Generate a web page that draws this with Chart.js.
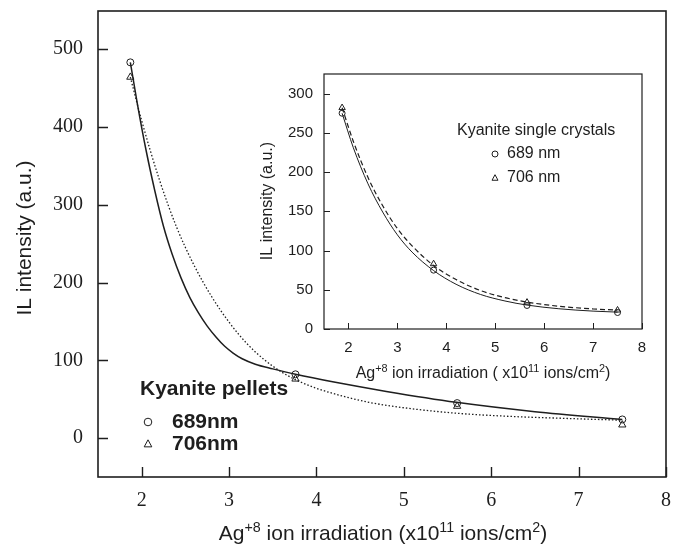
<!DOCTYPE html>
<html>
<head>
<meta charset="utf-8">
<script src="https://cdn.jsdelivr.net/npm/chart.js@4/dist/chart.umd.min.js"></script>
<style>
  body { margin: 0; background: #fff; }
  #wrap { position: relative; width: 680px; height: 545px; }
  #main { position: absolute; left: 0; top: 0; }
  #inset { position: absolute; left: 250px; top: 60px; }
</style>
</head>
<body>
<div id="wrap">
  <canvas id="main" width="680" height="545"></canvas>
  <canvas id="inset" width="400" height="330"></canvas>
</div>
<script>
// ---- main plot: Kyanite pellets ----
const pelletX = [1.87, 3.76, 5.61, 7.50];
const pellet689 = [483, 82, 45, 24];
const pellet706 = [464, 76, 41, 17];

// fitted curves
const pelletFit689X = [1.87, 1.95, 2.05, 2.15, 2.25, 2.35, 2.45, 2.55, 2.65, 2.75, 2.85, 2.95, 3.05, 3.15, 3.3, 3.5, 3.76, 4.2, 4.8, 5.6, 6.5, 7.5];
const pelletFit689Y = [483, 430, 370, 318, 272, 236, 206, 181, 161, 144, 130, 118, 109, 102, 95, 89, 82, 72, 60, 46, 34, 24];
const pelletFit706X = [1.87, 2.0, 2.2, 2.4, 2.6, 2.8, 3.0, 3.2, 3.4, 3.6, 3.8, 4.0, 4.3, 4.6, 5.0, 5.6, 6.2, 6.8, 7.5];
const pelletFit706Y = [464, 408, 333, 271, 222, 182, 149, 122, 101, 85, 73, 64, 54, 46, 39, 32, 28, 25.5, 23];

const mainXTicks = [2, 3, 4, 5, 6, 7, 8];
const mainYTicks = [0, 100, 200, 300, 400, 500];

// ---- inset: Kyanite single crystals ----
const crystalX = [1.87, 3.74, 5.65, 7.50];
const crystal689 = [275, 75, 30, 21];
const crystal706 = [282, 83, 34, 24];

const crystalFit689X = [1.87, 2.1, 2.4, 2.7, 3.0, 3.3, 3.74, 4.2, 4.7, 5.2, 5.65, 6.3, 7.0, 7.5];
const crystalFit689Y = [275, 231, 185, 149, 120, 98, 74.5, 57, 44, 35.7, 30.5, 25.8, 22.8, 21.5];
const crystalFit706X = [1.87, 2.1, 2.4, 2.7, 3.0, 3.3, 3.74, 4.2, 4.7, 5.2, 5.65, 6.3, 7.0, 7.5];
const crystalFit706Y = [282, 239, 193, 157, 128, 106, 81, 63, 49, 40, 34.3, 29, 25.6, 24];

const insetXTicks = [2, 3, 4, 5, 6, 7, 8];
const insetYTicks = [0, 50, 100, 150, 200, 250, 300];

const INK = '#1e1e1e';
const SANS = '"Liberation Sans", Arial, sans-serif';
const SERIF = '"Liberation Serif", "Times New Roman", serif';

function pairs(xs, ys) {
  return xs.map((x, i) => ({ x: x, y: ys[i] }));
}

// text with superscript pieces, centred on x
function drawParts(ctx, parts, x, y, size, family) {
  let total = 0;
  parts.forEach(p => {
    ctx.font = (p[1] ? size * 0.68 : size) + 'px ' + family;
    total += ctx.measureText(p[0]).width;
  });
  let cx = x - total / 2;
  ctx.textAlign = 'left';
  ctx.textBaseline = 'alphabetic';
  parts.forEach(p => {
    ctx.font = (p[1] ? size * 0.68 : size) + 'px ' + family;
    ctx.fillText(p[0], cx, p[1] ? y - size * 0.4 : y);
    cx += ctx.measureText(p[0]).width;
  });
}

function marker(ctx, shape, x, y, r) {
  ctx.beginPath();
  if (shape === 'circle') {
    ctx.arc(x, y, r, 0, Math.PI * 2);
  } else {
    ctx.moveTo(x, y - r * 1.1);
    ctx.lineTo(x + r, y + r * 0.75);
    ctx.lineTo(x - r, y + r * 0.75);
    ctx.closePath();
  }
  ctx.stroke();
}

// frame, inward ticks, titles and legend
function deco(cfg) {
  return {
    id: 'deco',
    afterDraw(chart) {
      const ctx = chart.ctx;
      const a = chart.chartArea;
      const xs = chart.scales.x, ys = chart.scales.y;
      ctx.save();
      ctx.strokeStyle = INK;
      ctx.fillStyle = INK;
      ctx.lineWidth = cfg.frameWidth;
      ctx.strokeRect(a.left, a.top, a.right - a.left, a.bottom - a.top);

      ctx.lineWidth = cfg.tickWidth;
      ctx.beginPath();
      cfg.xTicks.forEach(v => {
        const px = Math.round(xs.getPixelForValue(v)) + 0.5;
        ctx.moveTo(px, a.bottom);
        ctx.lineTo(px, a.bottom - cfg.tickLen);
      });
      cfg.yTicks.forEach(v => {
        const py = Math.round(ys.getPixelForValue(v)) + 0.5;
        ctx.moveTo(a.left, py);
        ctx.lineTo(a.left + cfg.tickLen, py);
      });
      ctx.stroke();

      drawParts(ctx, cfg.xTitle, cfg.xTitlePos[0], cfg.xTitlePos[1], cfg.titleSize, SANS);

      ctx.save();
      ctx.translate(cfg.yTitlePos[0], cfg.yTitlePos[1]);
      ctx.rotate(-Math.PI / 2);
      ctx.font = cfg.titleSize + 'px ' + SANS;
      ctx.textAlign = 'center';
      ctx.textBaseline = 'middle';
      ctx.fillText(cfg.yTitle, 0, 0);
      ctx.restore();

      const lg = cfg.legend;
      ctx.font = lg.font;
      ctx.textAlign = 'left';
      ctx.textBaseline = 'middle';
      ctx.fillText(lg.title, lg.titlePos[0], lg.titlePos[1]);
      ctx.lineWidth = 1;
      lg.items.forEach(it => {
        marker(ctx, it.shape, lg.markX, it.y, lg.markR);
        ctx.fillText(it.label, lg.textX, it.y);
      });
      ctx.restore();
    }
  };
}

function noPad(s) {
  s.paddingLeft = 0; s.paddingRight = 0; s.paddingTop = 0; s.paddingBottom = 0;
}

function makeChart(id, o) {
  const lineBase = { type: 'line', borderColor: INK, pointRadius: 0, fill: false,
    cubicInterpolationMode: 'monotone', order: 2 };
  const pointBase = { borderColor: INK, backgroundColor: 'rgba(0,0,0,0)', borderWidth: 1,
    showLine: false, order: 1 };
  return new Chart(document.getElementById(id), {
    type: 'scatter',
    data: {
      datasets: [
        Object.assign({}, lineBase, { data: pairs(o.fitAX, o.fitAY), borderWidth: o.lwA }),
        Object.assign({}, lineBase, { data: pairs(o.fitBX, o.fitBY), borderWidth: o.lwB, borderDash: o.dash }),
        Object.assign({}, pointBase, { data: pairs(o.x, o.a), pointStyle: 'circle', pointRadius: o.pr }),
        Object.assign({}, pointBase, { data: pairs(o.x, o.b), pointStyle: 'triangle', pointRadius: o.pr + 0.7 })
      ]
    },
    options: {
      responsive: false,
      animation: false,
      devicePixelRatio: 1,
      layout: { padding: o.pad },
      plugins: { legend: { display: false }, tooltip: { enabled: false } },
      scales: {
        x: {
          type: 'linear', min: 1.5, max: 8,
          grid: { display: false, drawTicks: false }, border: { display: false },
          ticks: { font: o.tickFont, color: INK, padding: o.xPad, maxRotation: 0 },
          afterBuildTicks: s => { s.ticks = o.xTicks.map(v => ({ value: v })); },
          afterFit: s => { s.height = o.xH; noPad(s); }
        },
        y: {
          type: 'linear', min: o.yMin, max: o.yMax,
          grid: { display: false, drawTicks: false }, border: { display: false },
          ticks: { font: o.tickFont, color: INK, padding: o.yPad },
          afterBuildTicks: s => { s.ticks = o.yTicks.map(v => ({ value: v })); },
          afterFit: s => { s.width = o.yW; noPad(s); }
        }
      }
    },
    plugins: [deco(o.deco)]
  });
}

makeChart('main', {
  x: pelletX, a: pellet689, b: pellet706,
  fitAX: pelletFit689X, fitAY: pelletFit689Y, fitBX: pelletFit706X, fitBY: pelletFit706Y,
  lwA: 1.5, lwB: 1.3, dash: [1.5, 2], pr: 3.5,
  xTicks: mainXTicks, yTicks: mainYTicks, yMin: -50, yMax: 549,
  tickFont: { family: SERIF, size: 20 }, xPad: 12, yPad: 15,
  xH: 68, yW: 98, pad: { top: 11, right: 14, left: 0, bottom: 0 },
  deco: {
    frameWidth: 1.6, tickWidth: 1.4, tickLen: 10, xTicks: mainXTicks, yTicks: mainYTicks,
    titleSize: 21,
    xTitle: [['Ag', false], ['+8', true], [' ion irradiation (x10', false], ['11', true], [' ions/cm', false], ['2', true], [')', false]],
    xTitlePos: [383, 540],
    yTitle: 'IL intensity (a.u.)', yTitlePos: [25, 238],
    legend: {
      font: 'bold 21px ' + SANS, title: 'Kyanite pellets', titlePos: [140, 389],
      markX: 148, markR: 3.8, textX: 172,
      items: [{ shape: 'circle', y: 422, label: '689nm' }, { shape: 'triangle', y: 444, label: '706nm' }]
    }
  }
});

makeChart('inset', {
  x: crystalX, a: crystal689, b: crystal706,
  fitAX: crystalFit689X, fitAY: crystalFit689Y, fitBX: crystalFit706X, fitBY: crystalFit706Y,
  lwA: 1, lwB: 1.2, dash: [5, 3], pr: 3,
  xTicks: insetXTicks, yTicks: insetYTicks, yMin: 0, yMax: 325,
  tickFont: { family: SANS, size: 15 }, xPad: 10, yPad: 11,
  xH: 61, yW: 74, pad: { top: 14, right: 8, left: 0, bottom: 0 },
  deco: {
    frameWidth: 1.2, tickWidth: 1, tickLen: 6, xTicks: insetXTicks, yTicks: insetYTicks,
    titleSize: 16,
    xTitle: [['Ag', false], ['+8', true], [' ion irradiation ( x10', false], ['11', true], [' ions/cm', false], ['2', true], [')', false]],
    xTitlePos: [233, 318],
    yTitle: 'IL intensity (a.u.)', yTitlePos: [18, 141],
    legend: {
      font: '16px ' + SANS, title: 'Kyanite single crystals', titlePos: [207, 71],
      markX: 245, markR: 3, textX: 257,
      items: [{ shape: 'circle', y: 94, label: '689 nm' }, { shape: 'triangle', y: 118, label: '706 nm' }]
    }
  }
});
</script>
</body>
</html>
